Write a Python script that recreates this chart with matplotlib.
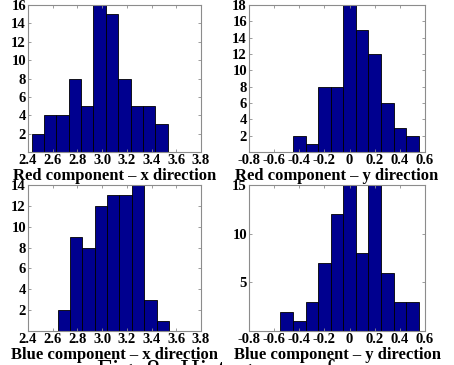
import numpy as np
from matplotlib import pyplot as plt

# bin counts
red_x_counts = [2, 4, 4, 8, 5, 16, 15, 8, 5, 5, 3]
red_y_counts = [2, 1, 8, 8, 18, 15, 12, 6, 3, 2]
blue_x_counts = [2, 9, 8, 12, 13, 13, 14, 3, 1]
blue_y_counts = [2, 1, 3, 7, 12, 15, 8, 15, 6, 3, 3]

# left edge of the first bin, bins are 0.1 wide
red_x_start = 2.43
red_y_start = -0.45
blue_x_start = 2.64
blue_y_start = -0.55
bin_width = 0.1

x_ticks_left = [2.4, 2.6, 2.8, 3.0, 3.2, 3.4, 3.6, 3.8]
x_labels_left = ['2.4', '2.6', '2.8', '3.0', '3.2', '3.4', '3.6', '3.8']
x_ticks_right = [-0.8, -0.6, -0.4, -0.2, 0, 0.2, 0.4, 0.6]
x_labels_right = ['-0.8', '-0.6', '-0.4', '-0.2', '0', '0.2', '0.4', '0.6']

titles = ['Red component \u2013 x direction', 'Red component \u2013 y direction',
          'Blue component \u2013 x direction', 'Blue component \u2013 y direction']

plt.rcParams['font.family'] = ['Liberation Serif', 'DejaVu Serif']

W, H = 454, 365
fig = plt.figure(figsize=(W / 100, H / 100), dpi=100)


def px_axes(x0, y0, x1, y1):
    return fig.add_axes([x0 / W, 1 - y1 / H, (x1 - x0) / W, (y1 - y0) / H])


panels = [
    (px_axes(28, 5, 201, 152), red_x_counts, red_x_start, (2.4, 3.8),
     list(range(2, 17, 2)), 16, x_ticks_left, x_labels_left),
    (px_axes(249, 5, 425, 152), red_y_counts, red_y_start, (-0.8, 0.6),
     list(range(2, 19, 2)), 18, x_ticks_right, x_labels_right),
    (px_axes(28, 185, 201, 331), blue_x_counts, blue_x_start, (2.4, 3.8),
     list(range(2, 15, 2)), 14, x_ticks_left, x_labels_left),
    (px_axes(249, 185, 425, 331), blue_y_counts, blue_y_start, (-0.8, 0.6),
     [5, 10, 15], 15, x_ticks_right, x_labels_right),
]

frame_gray = '#8c8c8c'
for (ax, counts, start, xlim, yticks, ymax, xt, xl), title in zip(panels, titles):
    edges = start + bin_width * np.arange(len(counts) + 1)
    ax.hist(edges[:-1] + bin_width / 2, bins=edges, weights=counts,
            color='#00008f', edgecolor='black', linewidth=0.6)
    ax.set_xlim(*xlim)
    ax.set_ylim(0, ymax)
    ax.set_xticks(xt)
    ax.set_xticklabels(xl)
    ax.set_yticks(yticks)
    ax.tick_params(direction='in', length=2.5, width=0.6, color=frame_gray,
                   top=True, right=True, labelsize=10.5, pad=1.5)
    for lab in ax.get_xticklabels() + ax.get_yticklabels():
        lab.set_fontweight('bold')
    for sp in ax.spines.values():
        sp.set_color(frame_gray)
        sp.set_linewidth(0.8)
    ax.set_xlabel(title, fontsize=12, fontweight='bold', labelpad=0.5)

# caption of the page, mostly cut off at the bottom edge
fig.text(97 / W, -13 / H, 'Fig. 8.  Histograms of components', fontsize=19.5,
         va='baseline', ha='left')

fig.savefig('out.png', dpi=100)
